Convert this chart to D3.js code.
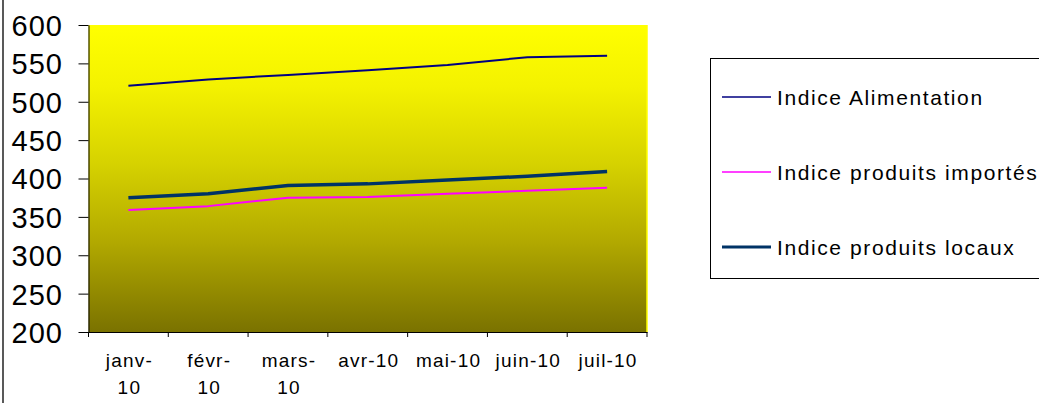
<!DOCTYPE html>
<html>
<head>
<meta charset="utf-8">
<script src="https://cdn.jsdelivr.net/npm/d3@7"></script>
<style>
  html, body { margin: 0; padding: 0; background: #fff; }
  svg { display: block; font-family: Arial, "Liberation Sans", sans-serif; }
</style>
</head>
<body>
<svg id="chart" width="1039" height="403"></svg>
<script>
const categories = ["janv-10", "févr-10", "mars-10", "avr-10", "mai-10", "juin-10", "juil-10"];
const alimentation = [521, 529, 535, 541, 548, 558, 560];
const importes = [359, 364, 375, 376, 380, 384, 388];
const locaux = [375, 380, 391, 393, 398, 403, 409];
const yTicks = [200, 250, 300, 350, 400, 450, 500, 550, 600];
const seriesNames = ["Indice Alimentation", "Indice produits importés", "Indice produits locaux"];

const series = [
  { name: seriesNames[0], values: alimentation, color: "#000080", width: 2, legendWidth: 1.5 },
  { name: seriesNames[1], values: importes, color: "#FF00FF", width: 2, legendWidth: 1.5 },
  { name: seriesNames[2], values: locaux, color: "#003366", width: 3.5, legendWidth: 3.2 }
];

const svg = d3.select("#chart");
const plot = { left: 88.5, right: 647, top: 25, bottom: 332 };

const x = d3.scaleBand().domain(categories).range([plot.left, plot.right]).padding(0);
const y = d3.scaleLinear().domain([200, 600]).range([plot.bottom, plot.top]);

// outer border (left edge visible)
svg.append("line").attr("x1", 3).attr("x2", 3).attr("y1", 0).attr("y2", 403)
  .attr("stroke", "#222").attr("stroke-width", 1.5);

// gradient background
const defs = svg.append("defs");
const grad = defs.append("linearGradient").attr("id", "bg").attr("x1", 0).attr("y1", 0).attr("x2", 0).attr("y2", 1);
[[0, "#FFFF00"], [0.2, "#F4F200"], [0.45, "#D6D200"], [0.7, "#B3AA00"], [1, "#7A7200"]].forEach(([o, c]) =>
  grad.append("stop").attr("offset", o).attr("stop-color", c));

svg.append("rect")
  .attr("x", plot.left).attr("y", plot.top)
  .attr("width", plot.right - plot.left).attr("height", plot.bottom - plot.top)
  .attr("fill", "url(#bg)");
svg.append("line").attr("x1", plot.right).attr("x2", plot.right)
  .attr("y1", plot.top).attr("y2", plot.bottom).attr("stroke", "#FFFF00").attr("stroke-width", 1.5);

// y axis
const yAxis = svg.append("g").attr("transform", `translate(${plot.left},0)`)
  .call(d3.axisLeft(y).tickValues(yTicks).tickSize(10).tickSizeOuter(0).tickFormat(d3.format("d")));
yAxis.select(".domain").attr("stroke", "#000");
yAxis.selectAll(".tick line").attr("stroke", "#000");
yAxis.selectAll(".tick text")
  .attr("x", -25.5).attr("dy", "0.36em")
  .attr("font-size", 29).attr("letter-spacing", 1)
  .attr("fill", "#000").attr("font-family", "Arial, 'Liberation Sans', sans-serif");

// x axis
const xAxis = svg.append("g").attr("transform", `translate(0,${plot.bottom})`)
  .call(d3.axisBottom(x).tickSize(0).tickSizeOuter(0).tickFormat(""));
xAxis.select(".domain").attr("stroke", "#000");
xAxis.selectAll(".tick line").remove();
// category boundary ticks
const boundaries = categories.map(c => x(c)).concat([plot.right]);
svg.append("g").selectAll("line").data(boundaries).join("line")
  .attr("x1", d => d).attr("x2", d => d)
  .attr("y1", plot.bottom).attr("y2", plot.bottom + 5)
  .attr("stroke", "#000");

// x labels (wrapped like reference)
const labelWrap = { "janv-10": ["janv-", "10"], "févr-10": ["févr-", "10"], "mars-10": ["mars-", "10"] };
const xl = svg.append("g");
categories.forEach(c => {
  const lines = labelWrap[c] || [c];
  const t = xl.append("text")
    .attr("text-anchor", "middle")
    .attr("font-size", 19).attr("letter-spacing", 1.2)
    .attr("fill", "#000");
  lines.forEach((l, i) => {
    t.append("tspan").attr("x", x(c) + x.bandwidth() / 2 + 1).attr("y", 367 + i * 27).text(l);
  });
});

// lines
const lineGen = d3.line()
  .x((d, i) => x(categories[i]) + x.bandwidth() / 2)
  .y(d => y(d));

svg.append("g").selectAll("path").data(series).join("path")
  .attr("d", d => lineGen(d.values))
  .attr("fill", "none")
  .attr("stroke", d => d.color)
  .attr("stroke-width", d => d.width)
  .attr("stroke-linejoin", "round");

// legend
const legend = svg.append("g");
legend.append("rect")
  .attr("x", 710.5).attr("y", 58.5).attr("width", 340).attr("height", 220)
  .attr("fill", "#fff").attr("stroke", "#000").attr("stroke-width", 1);
const rowY = [97, 172, 247];
series.forEach((s, i) => {
  legend.append("line")
    .attr("x1", 722).attr("x2", 771).attr("y1", rowY[i]).attr("y2", rowY[i])
    .attr("stroke", s.color).attr("stroke-width", s.legendWidth);
  legend.append("text")
    .attr("x", 777).attr("y", rowY[i]).attr("dy", "0.36em")
    .attr("font-size", 21).attr("letter-spacing", 1.6)
    .attr("fill", "#000")
    .text(s.name);
});
</script>
</body>
</html>
